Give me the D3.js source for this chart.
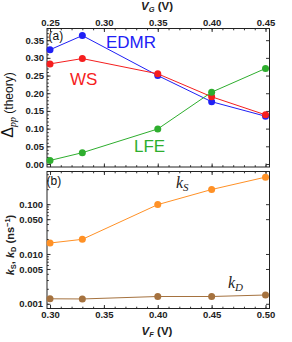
<!DOCTYPE html>
<html>
<head>
<meta charset="utf-8">
<script src="https://cdn.jsdelivr.net/npm/d3@7"></script>
<style>
  body { margin: 0; background: #fff; }
  svg { font-family: "Liberation Sans", Arial, sans-serif; }
  .tick text { font-weight: bold; font-size: 9.5px; fill: #222; }
  .tick line { stroke: #333; }
</style>
</head>
<body>
<svg width="292" height="342"></svg>
<script>
// data
const vg = [0.25, 0.28, 0.35, 0.40, 0.45];
const edmr = [0.323, 0.363, 0.250, 0.176, 0.135];
const ws = [0.283, 0.298, 0.255, 0.190, 0.139];
const lfe = [0.010, 0.032, 0.099, 0.203, 0.270];

const vf = [0.30, 0.33, 0.40, 0.45, 0.50];
const kS = [0.0166, 0.0197, 0.098, 0.197, 0.349];
const kD = [0.00126, 0.00125, 0.0014, 0.0014, 0.0015];

const vgTicks = [0.25, 0.30, 0.35, 0.40, 0.45];
const vfTicks = [0.30, 0.35, 0.40, 0.45, 0.50];
const deltaTicks = [0, 0.05, 0.10, 0.15, 0.20, 0.25, 0.30, 0.35];
const kTicks = [0.001, 0.005, 0.010, 0.050, 0.100];

const svg = d3.select("svg");
const L = 47, R = 269.5;

// scales
const xTop = d3.scaleLinear().domain([0.2472, 0.4537]).range([L, R]);
const yTop = d3.scaleLinear().domain([-0.0085, 0.383]).range([167, 28.5]);
const xBot = d3.scaleLinear().domain([0.2972, 0.5037]).range([L, R]);
const yBot = d3.scaleLog().domain([0.000804, 0.453]).range([308.5, 171.5]);

const fmt2 = d3.format(".2f");
const fmt3 = d3.format(".3f");

// helper for inward ticks
const addAxis = (axis, tx, ty) => {
  const g = svg.append("g").attr("transform", `translate(${tx},${ty})`).call(axis);
  g.select(".domain").remove();
  return g;
};
const minor = (lo, hi, step) => d3.range(lo, hi + step / 2, step);

// ---- panel (a)
addAxis(d3.axisTop(xTop).tickValues(vgTicks).tickFormat(fmt2).tickSizeInner(-3.5).tickSizeOuter(0).tickPadding(3), 0, yTop.range()[1]);
addAxis(d3.axisTop(xTop).tickValues(minor(0.25, 0.45, 0.01)).tickFormat("").tickSizeInner(-1.8).tickSizeOuter(0), 0, yTop.range()[1]);
addAxis(d3.axisBottom(xTop).tickValues(vgTicks).tickFormat("").tickSizeInner(-3.5).tickSizeOuter(0), 0, yTop.range()[0]);
addAxis(d3.axisBottom(xTop).tickValues(minor(0.25, 0.45, 0.01)).tickFormat("").tickSizeInner(-1.8).tickSizeOuter(0), 0, yTop.range()[0]);
addAxis(d3.axisLeft(yTop).tickValues(deltaTicks).tickFormat(fmt2).tickSizeInner(-3.5).tickSizeOuter(0).tickPadding(3), L, 0);
addAxis(d3.axisLeft(yTop).tickValues(minor(0, 0.38, 0.01)).tickFormat("").tickSizeInner(-1.8).tickSizeOuter(0), L, 0);
addAxis(d3.axisRight(yTop).tickValues(deltaTicks).tickFormat("").tickSizeInner(-3.5).tickSizeOuter(0), R, 0);

svg.append("rect")
  .attr("x", L).attr("y", yTop.range()[1])
  .attr("width", R - L).attr("height", yTop.range()[0] - yTop.range()[1])
  .attr("fill", "none").attr("stroke", "#222").attr("stroke-width", 1);

const seriesTop = [
  { name: "EDMR", values: edmr, color: "#2020f5" },
  { name: "WS", values: ws, color: "#f51e1e" },
  { name: "LFE", values: lfe, color: "#2eae2e" }
];

const drawSeries = (xs, ys, color, xScale, yScale) => {
  const pts = xs.map((x, i) => [x, ys[i]]);
  svg.append("path")
    .datum(pts)
    .attr("fill", "none")
    .attr("stroke", color)
    .attr("stroke-width", 1)
    .attr("d", d3.line().x(d => xScale(d[0])).y(d => yScale(d[1])));
  svg.append("g").selectAll("circle")
    .data(pts)
    .enter().append("circle")
      .attr("cx", d => xScale(d[0]))
      .attr("cy", d => yScale(d[1]))
      .attr("r", 3.5)
      .attr("fill", color);
};

seriesTop.forEach(s => drawSeries(vg, s.values, s.color, xTop, yTop));

// series labels
svg.append("text").attr("x", 106).attr("y", 48).attr("font-size", 17).attr("fill", "#2020f5").text("EDMR");
svg.append("text").attr("x", 70).attr("y", 85).attr("font-size", 17).attr("fill", "#f51e1e").text("WS");
svg.append("text").attr("x", 134).attr("y", 152).attr("font-size", 17).attr("fill", "#2eae2e").text("LFE");
svg.append("text").attr("x", 48.5).attr("y", 40).attr("font-size", 12).attr("fill", "#111").text("(a)");

// axis titles (a)
const tTop = svg.append("text").attr("x", 157).attr("y", 9.5).attr("text-anchor", "middle")
  .attr("font-size", 11.5).attr("font-weight", "bold").attr("fill", "#222");
tTop.append("tspan").attr("font-style", "italic").text("V");
tTop.append("tspan").attr("font-size", 7.5).attr("dy", 2).attr("font-style", "italic").text("G");
tTop.append("tspan").attr("dy", -2).text(" (V)");

const yLabA = svg.append("text").attr("transform", "translate(13,105) rotate(-90)")
  .attr("text-anchor", "middle").attr("fill", "#111").attr("font-size", 12);
yLabA.append("tspan").attr("font-size", 16).text("Δ");
yLabA.append("tspan").attr("font-size", 10).attr("font-style", "italic").attr("font-family", "Liberation Serif, serif").attr("dy", 3).text("pp");
yLabA.append("tspan").attr("dy", -3).text(" (theory)");

// ---- panel (b)
const logMinor = [];
[0.001, 0.01, 0.1].forEach(d => { for (let k = 1; k < 10; k++) if (d * k < 0.45) logMinor.push(d * k); });

addAxis(d3.axisBottom(xBot).tickValues(vfTicks).tickFormat(fmt2).tickSizeInner(-3.5).tickSizeOuter(0).tickPadding(3), 0, yBot.range()[0]);
addAxis(d3.axisBottom(xBot).tickValues(minor(0.30, 0.50, 0.01)).tickFormat("").tickSizeInner(-1.8).tickSizeOuter(0), 0, yBot.range()[0]);
addAxis(d3.axisTop(xBot).tickValues(vfTicks).tickFormat("").tickSizeInner(-3.5).tickSizeOuter(0), 0, yBot.range()[1]);
addAxis(d3.axisTop(xBot).tickValues(minor(0.30, 0.50, 0.01)).tickFormat("").tickSizeInner(-1.8).tickSizeOuter(0), 0, yBot.range()[1]);
addAxis(d3.axisLeft(yBot).tickValues(kTicks).tickFormat(fmt3).tickSizeInner(-3.5).tickSizeOuter(0).tickPadding(4), L, 0);
addAxis(d3.axisLeft(yBot).tickValues(logMinor).tickFormat("").tickSizeInner(-1.8).tickSizeOuter(0), L, 0);
addAxis(d3.axisRight(yBot).tickValues(kTicks).tickFormat("").tickSizeInner(-3.5).tickSizeOuter(0), R, 0);

svg.append("rect")
  .attr("x", L).attr("y", yBot.range()[1])
  .attr("width", R - L).attr("height", yBot.range()[0] - yBot.range()[1])
  .attr("fill", "none").attr("stroke", "#222").attr("stroke-width", 1);

drawSeries(vf, kD, "#a5723f", xBot, yBot);
drawSeries(vf, kS, "#ff9126", xBot, yBot);

const kLabel = (x, y, sub) => {
  const t = svg.append("text").attr("x", x).attr("y", y)
    .attr("font-family", "Liberation Serif, serif").attr("font-style", "italic")
    .attr("font-size", 16).attr("fill", "#222");
  t.append("tspan").text("k");
  t.append("tspan").attr("font-size", 11).attr("dy", 3).text(sub);
};
kLabel(176, 188, "S");
kLabel(228, 288, "D");

svg.append("text").attr("x", 46.5).attr("y", 185).attr("font-size", 12).attr("fill", "#111").text("(b)");

const tBot = svg.append("text").attr("x", 157).attr("y", 335).attr("text-anchor", "middle")
  .attr("font-size", 11.5).attr("font-weight", "bold").attr("fill", "#222");
tBot.append("tspan").attr("font-style", "italic").text("V");
tBot.append("tspan").attr("font-size", 7.5).attr("dy", 2).attr("font-style", "italic").text("F");
tBot.append("tspan").attr("dy", -2).text(" (V)");

const yLabB = svg.append("text").attr("transform", "translate(14,245) rotate(-90)")
  .attr("text-anchor", "middle").attr("fill", "#222").attr("font-size", 11).attr("font-weight", "bold");
yLabB.append("tspan").attr("font-style", "italic").text("k");
yLabB.append("tspan").attr("font-size", 7.5).attr("dy", 2).text("S");
yLabB.append("tspan").attr("dy", -2).text(", ");
yLabB.append("tspan").attr("font-style", "italic").text("k");
yLabB.append("tspan").attr("font-size", 7.5).attr("dy", 2).text("D");
yLabB.append("tspan").attr("dy", -2).text(" (ns");
yLabB.append("tspan").attr("font-size", 7.5).attr("dy", -4).text("−1");
yLabB.append("tspan").attr("dy", 4).text(")");
</script>
</body>
</html>
